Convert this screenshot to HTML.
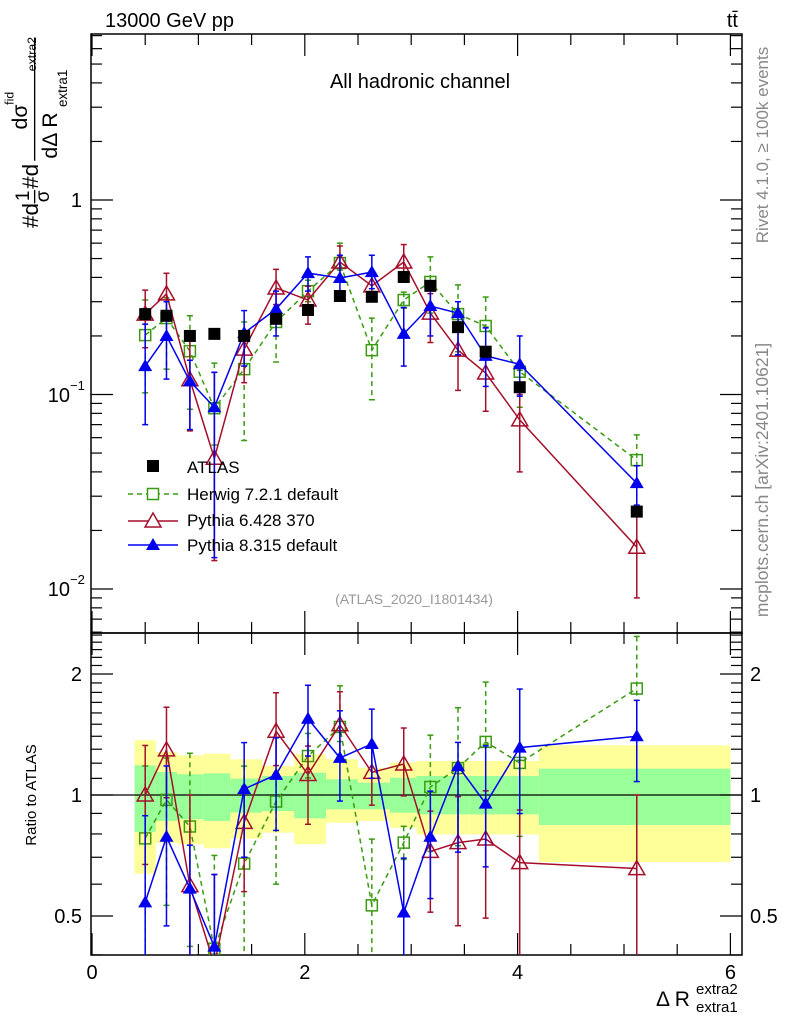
<!DOCTYPE html>
<html><head><meta charset="utf-8"><style>
html,body{margin:0;padding:0;background:#fff;width:786px;height:1024px;overflow:hidden;}
svg{display:block;font-family:"Liberation Sans",sans-serif;overflow:hidden;}
</style></head><body>
<svg id="c" width="786" height="1024" viewBox="0 0 786 1024"></svg>
<script>
const xs=[0.50,0.70,0.92,1.15,1.43,1.73,2.03,2.33,2.63,2.93,3.18,3.44,3.70,4.02,5.12];
const atlas=[0.259,0.254,0.200,0.205,0.200,0.245,0.272,0.321,0.318,0.402,0.362,0.222,0.166,0.109,0.025];
const herwig=[0.202,0.247,0.167,0.085,0.135,0.236,0.340,0.474,0.169,0.306,0.379,0.259,0.225,0.131,0.046];
const herwigHi=[0.306,0.314,0.254,0.145,0.236,0.278,0.387,0.60,0.247,0.336,0.51,0.366,0.317,0.133,0.062];
const herwigLo=[0.102,0.135,0.084,0.055,0.058,0.147,0.30,0.436,0.094,0.278,0.262,0.166,0.222,0.086,0.035];
const py6=[0.259,0.329,0.119,0.047,0.171,0.353,0.306,0.48,0.362,0.48,0.262,0.169,0.129,0.074,0.0164];
const py6Hi=[0.344,0.42,0.20,0.13,0.21,0.44,0.36,0.58,0.42,0.59,0.33,0.22,0.17,0.10,0.025];
const py6Lo=[0.174,0.25,0.065,0.014,0.115,0.29,0.23,0.40,0.30,0.40,0.185,0.105,0.082,0.04,0.009];
const py8=[0.140,0.200,0.117,0.086,0.207,0.275,0.421,0.397,0.426,0.205,0.285,0.262,0.158,0.143,0.035];
const py8Hi=[0.23,0.30,0.15,0.13,0.27,0.34,0.51,0.52,0.52,0.28,0.37,0.30,0.22,0.20,0.043];
const py8Lo=[0.07,0.12,0.066,0.0145,0.14,0.20,0.34,0.31,0.35,0.14,0.20,0.16,0.11,0.098,0.027];
const binEdges=[0.4,0.6,0.8,1.05,1.3,1.6,1.9,2.2,2.5,2.8,3.05,3.3,3.55,3.85,4.2,6.0];
const yelHi=[1.368,1.279,1.255,1.267,1.227,1.181,1.262,1.227,1.169,1.204,1.215,1.215,1.215,1.215,1.329];
const yelLo=[0.637,0.761,0.754,0.737,0.779,0.806,0.754,0.853,0.862,0.829,0.798,0.798,0.798,0.798,0.681];
const grnHi=[1.185,1.141,1.126,1.132,1.098,1.115,1.136,1.094,1.073,1.104,1.115,1.115,1.115,1.115,1.163];
const grnLo=[0.809,0.862,0.870,0.862,0.904,0.912,0.875,0.921,0.921,0.904,0.895,0.895,0.895,0.895,0.842];
const xTicks=[0,2,4,6];

const L=91,R=742,T=34,MB=633,RB=955;
const X=v=>92+v*106.4;
const Y=v=>200-194.5*Math.log10(v);
const RY=v=>795-121*Math.log2(v);
const clampM=y=>Math.max(T-10,Math.min(MB+10,y));
const clampR=y=>Math.max(MB-10,Math.min(RB+10,y));
const NS="http://www.w3.org/2000/svg";
const svg=document.getElementById('c');
function el(tag,at,parent){const e=document.createElementNS(NS,tag);for(const k in at)e.setAttribute(k,at[k]);(parent||svg).appendChild(e);return e;}
function txt(s,at,parent){const e=el('text',at,parent);e.textContent=s;return e;}

const defs=el('defs',{});
const c1=el('clipPath',{id:'cm'},defs);el('rect',{x:L,y:T,width:R-L,height:MB-T},c1);
const c2=el('clipPath',{id:'cr'},defs);el('rect',{x:L,y:MB,width:R-L,height:RB-MB},c2);

const bands=el('g',{'clip-path':'url(#cr)'});


for(let i=0;i<yelHi.length;i++){
  const x0=X(binEdges[i]),x1=X(binEdges[i+1]);
  const r1=el('rect',{x:x0,y:RY(yelHi[i]),width:x1-x0,height:RY(yelLo[i])-RY(yelHi[i]),fill:'#ffff99'},bands);
  
  
  const r2=el('rect',{x:x0,y:RY(grnHi[i]),width:x1-x0,height:RY(grnLo[i])-RY(grnHi[i]),fill:'#99ff99'},bands);
  
  
}
el('line',{x1:L,x2:R,y1:RY(1),y2:RY(1),stroke:'#000','stroke-width':1.2});

const fr1=el('rect',{x:L,y:T,width:R-L,height:MB-T,fill:'none',stroke:'#000','stroke-width':1.5});


const fr2=el('rect',{x:L,y:MB,width:R-L,height:RB-MB,fill:'none',stroke:'#000','stroke-width':1.5});



const tk=el('g',{stroke:'#000','stroke-width':1.2});
for(let v=0;v<=6.01;v+=0.5){
  const maj=Math.abs(v-Math.round(v/2)*2)<0.01;const l=maj?22:11;const x=X(v);
  el('line',{x1:x,x2:x,y1:T,y2:T+l},tk);el('line',{x1:x,x2:x,y1:MB,y2:MB-l},tk);
  el('line',{x1:x,x2:x,y1:MB,y2:MB+l},tk);el('line',{x1:x,x2:x,y1:RB,y2:RB-l},tk);
}
for(let d=-3;d<=0;d++)for(let m=1;m<=9;m++){
  const v=m*Math.pow(10,d);const y=Y(v);if(y<T||y>MB)continue;const l=m==1?22:11;
  el('line',{x1:L,x2:L+l,y1:y,y2:y},tk);el('line',{x1:R,x2:R-l,y1:y,y2:y},tk);
}
for(let m=1;m<=9;m++){const y=Y(m*10);if(y<T)continue;el('line',{x1:L,x2:L+11,y1:y,y2:y},tk);el('line',{x1:R,x2:R-11,y1:y,y2:y},tk);}
for(let v=0.4;v<=2.51;v+=0.1){
  const y=RY(v);if(y<MB||y>RB)continue;
  const maj=[0.5,1,2].some(q=>Math.abs(q-v)<0.01);const l=maj?22:11;
  el('line',{x1:L,x2:L+l,y1:y,y2:y},tk);el('line',{x1:R,x2:R-l,y1:y,y2:y},tk);
}

xTicks.forEach(v=>{const t=txt(String(v),{x:X(v),y:979,'font-size':20,'text-anchor':'middle'});
  });
txt('1',{x:82,y:207,'font-size':20,'text-anchor':'end'});
txt('10',{x:70,y:402,'font-size':20,'text-anchor':'end'});txt('−1',{x:70,y:390,'font-size':13});
txt('10',{x:70,y:596,'font-size':20,'text-anchor':'end'});txt('−2',{x:70,y:584,'font-size':13});
[['2',2],['1',1],['0.5',0.5]].forEach(([s,v])=>{
  txt(s,{x:82,y:RY(v)+7,'font-size':20,'text-anchor':'end'});
  txt(s,{x:750,y:RY(v)+7,'font-size':20});
});

function draw(vals,hi,lo,color,dash,marker,ratio,name){
  const g=el('g',{'clip-path':ratio?'url(#cr)':'url(#cm)'});
  
  
  const f=ratio?(v,i)=>clampR(RY(v/atlas[i])):(v,i)=>clampM(Y(v));
  const pts=vals.map((v,i)=>[X(xs[i]),f(v,i)]);
  if(hi){
    for(let i=0;i<vals.length;i++){
      const x=pts[i][0],y1=f(hi[i],i),y2=f(lo[i],i);
      el('line',{x1:x,x2:x,y1:y1,y2:y2,stroke:color,'stroke-width':1.5,'stroke-dasharray':dash||'none'},g);
      el('line',{x1:x-3,x2:x+3,y1:y1,y2:y1,stroke:color,'stroke-width':1.5},g);
      el('line',{x1:x-3,x2:x+3,y1:y2,y2:y2,stroke:color,'stroke-width':1.5},g);
    }
    el('polyline',{points:pts.map(p=>p.join(',')).join(' '),fill:'none',stroke:color,'stroke-width':1.5,'stroke-dasharray':dash||'none'},g);
  }
  pts.forEach(([x,y])=>{
    let m;
    if(marker=='fsq')m=el('rect',{x:x-6,y:y-6,width:12,height:12,fill:'#000'},g);
    else if(marker=='osq')m=el('rect',{x:x-5.5,y:y-5.5,width:11,height:11,fill:'none',stroke:color,'stroke-width':1.5},g);
    else if(marker=='otri')m=el('polygon',{points:`${x},${y-8} ${x-8},${y+6} ${x+8},${y+6}`,fill:'none',stroke:color,'stroke-width':1.5},g);
    else m=el('polygon',{points:`${x},${y-7} ${x-7},${y+5} ${x+7},${y+5}`,fill:color},g);
    
    
  });
}
draw(herwig,herwigHi,herwigLo,'#3a9a10','5,4','osq',false,'herwig');
draw(py6,py6Hi,py6Lo,'#a50f2a',null,'otri',false,'pythia6');
draw(py8,py8Hi,py8Lo,'#0000ee',null,'ftri',false,'pythia8');
draw(atlas,null,null,'#000',null,'fsq',false,'atlas');
draw(herwig,herwigHi,herwigLo,'#3a9a10','5,4','osq',true,'herwig');
draw(py6,py6Hi,py6Lo,'#a50f2a',null,'otri',true,'pythia6');
draw(py8,py8Hi,py8Lo,'#0000ee',null,'ftri',true,'pythia8');

const lg=el('g',{});


el('rect',{x:147,y:460,width:12,height:12,fill:'#000'},lg);
txt('ATLAS',{x:187,y:473,'font-size':17},lg);
el('line',{x1:128,x2:178,y1:494,y2:494,stroke:'#3a9a10','stroke-width':1.5,'stroke-dasharray':'5,4'},lg);
el('rect',{x:147.5,y:488.5,width:11,height:11,fill:'#fff',stroke:'#3a9a10','stroke-width':1.5},lg);
txt('Herwig 7.2.1 default',{x:187,y:500,'font-size':17},lg);
el('line',{x1:128,x2:178,y1:521,y2:521,stroke:'#a50f2a','stroke-width':1.5},lg);
el('polygon',{points:'153,513 145,527 161,527',fill:'#fff',stroke:'#a50f2a','stroke-width':1.5},lg);
txt('Pythia 6.428 370',{x:187,y:526,'font-size':17},lg);
el('line',{x1:128,x2:178,y1:545,y2:545,stroke:'#0000ee','stroke-width':1.5},lg);
el('polygon',{points:'153,538 146,550 160,550',fill:'#0000ee'},lg);
txt('Pythia 8.315 default',{x:187,y:551,'font-size':17},lg);

txt('13000 GeV pp',{x:105,y:27,'font-size':20});
txt('tt̄',{x:738,y:27,'font-size':20,'text-anchor':'end'});
txt('All hadronic channel',{x:420,y:88,'font-size':20,'text-anchor':'middle'});
txt('(ATLAS_2020_I1801434)',{x:414,y:604,'font-size':14,'text-anchor':'middle',fill:'#999'});
txt('Rivet 4.1.0, ≥ 100k events',{x:0,y:0,'font-size':17,'text-anchor':'middle',fill:'#888',transform:'translate(768,145) rotate(-90)'});
txt('mcplots.cern.ch [arXiv:2401.10621]',{x:0,y:0,'font-size':17.5,'text-anchor':'middle',fill:'#888',transform:'translate(768,480) rotate(-90)'});
txt('Ratio to ATLAS',{x:0,y:0,'font-size':15,'text-anchor':'middle',transform:'translate(36,795) rotate(-90)'});
const yl=el('g',{transform:'translate(38,228) rotate(-90) scale(1.12)'});


txt('#d',{x:0,y:0,'font-size':20},yl);
txt('1',{x:24,y:-8,'font-size':17},yl);txt('σ',{x:23,y:10,'font-size':17},yl);
el('line',{x1:22,x2:34,y1:-3,y2:-3,stroke:'#000','stroke-width':1.2},yl);
txt('#d',{x:35,y:0,'font-size':20},yl);
txt('dσ',{x:88,y:-10,'font-size':19},yl);txt('fid',{x:110,y:-22,'font-size':11},yl);
el('line',{x1:60,x2:170,y1:-3,y2:-3,stroke:'#000','stroke-width':1.2},yl);
txt('dΔ R',{x:62,y:17,'font-size':19},yl);
txt('extra1',{x:108,y:26,'font-size':12},yl);txt('extra2',{x:140,y:-2,'font-size':11},yl);
txt('Δ R',{x:656,y:1006,'font-size':21});
txt('extra2',{x:696,y:994,'font-size':15});
txt('extra1',{x:696,y:1012,'font-size':15});
</script>
</body></html>
